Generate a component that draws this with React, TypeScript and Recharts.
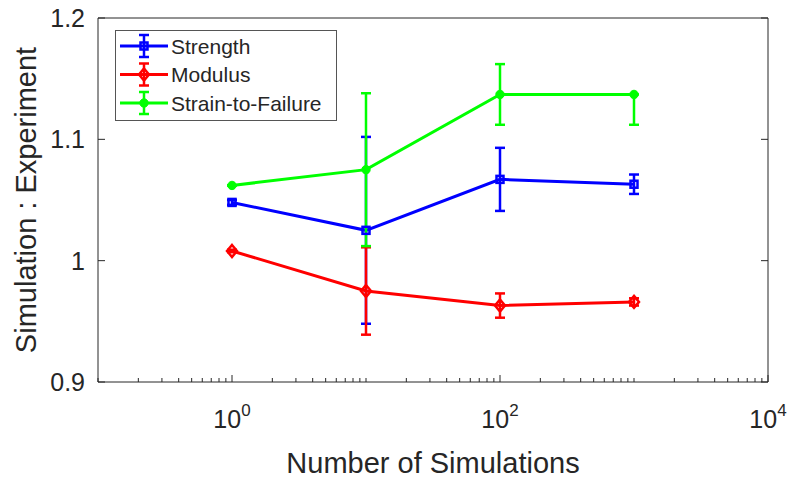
import { LineChart, Line, XAxis, YAxis, ErrorBar, Legend } from 'recharts'

// Number of simulations (x) and simulation:experiment ratios
const nSims = [1, 10, 100, 1000]
const strength = [1.048, 1.025, 1.067, 1.063]
const strengthErr = [0.002, 0.077, 0.026, 0.008]
const modulus = [1.008, 0.975, 0.963, 0.966]
const modulusErr = [0.001, 0.036, 0.01, 0.003]
const strain = [1.062, 1.075, 1.137, 1.137]
const strainErrLow = [0, 0.063, 0.025, 0.025]
const strainErrHigh = [0, 0.063, 0.025, 0]

// axis ticks
const xDecades = [0.1, 1, 10, 100, 1000]
const xMultipliers = [1, 2, 3, 4, 5, 6, 7, 8, 9]
const xMajorTicks = [1, 100, 10000]
const xMajorExps = ['0', '2', '4']
const yTicks = [0.9, 1, 1.1, 1.2]
const yTickLabels = ['0.9', '1', '1.1', '1.2']

const xTicks = [...xDecades.flatMap((d) => xMultipliers.map((m) => d * m)), 10000]

const AXIS = '#262626'
const FONT = '"Liberation Sans", Arial, Helvetica, sans-serif'

const seriesList = [
  { key: 'strength', err: 'strengthErr', name: 'Strength', color: '#0000ff', marker: 'square' },
  { key: 'modulus', err: 'modulusErr', name: 'Modulus', color: '#ff0000', marker: 'diamond' },
  { key: 'strain', err: 'strainErr', name: 'Strain-to-Failure', color: '#00ff00', marker: 'circle' },
]

const data = nSims.map((n, i) => ({
  n,
  strength: strength[i],
  strengthErr: [strengthErr[i], strengthErr[i]],
  modulus: modulus[i],
  modulusErr: [modulusErr[i], modulusErr[i]],
  strain: strain[i],
  strainErr: [strainErrLow[i], strainErrHigh[i]],
}))

function Marker({ type, cx, cy, color }: { type: string; cx: number; cy: number; color: string }) {
  if (type === 'square') {
    return <rect x={cx - 3.5} y={cy - 3.5} width={7} height={7} fill="none" stroke={color} strokeWidth={2.5} />
  }
  if (type === 'diamond') {
    return (
      <polygon
        points={`${cx},${cy - 6} ${cx + 5},${cy} ${cx},${cy + 6} ${cx - 5},${cy}`}
        fill="none"
        stroke={color}
        strokeWidth={2.5}
      />
    )
  }
  return <circle cx={cx} cy={cy} r={4.2} fill={color} stroke={color} />
}

const BottomTick = (props: any) => {
  const { x, y, payload } = props
  const idx = xMajorTicks.indexOf(payload.value)
  const major = idx >= 0
  return (
    <g>
      <line x1={x} x2={x} y1={y} y2={y - (major ? 7 : 4)} stroke={AXIS} />
      {major && (
        <text x={x} y={y + 46} textAnchor="middle" fill={AXIS} fontSize={25} fontFamily={FONT}>
          10<tspan fontSize={17} dy={-12}>{xMajorExps[idx]}</tspan>
        </text>
      )}
    </g>
  )
}

const TopTick = (props: any) => {
  const { x, y, payload } = props
  const major = xMajorTicks.indexOf(payload.value) >= 0
  return <line x1={x} x2={x} y1={y} y2={y + (major ? 7 : 4)} stroke={AXIS} />
}

const LeftTick = (props: any) => {
  const { x, y, payload } = props
  const idx = yTicks.indexOf(payload.value)
  return (
    <g>
      <line x1={x} x2={x + 7} y1={y} y2={y} stroke={AXIS} />
      <text x={x - 13} y={y + 9} textAnchor="end" fill={AXIS} fontSize={25} fontFamily={FONT}>
        {yTickLabels[idx]}
      </text>
    </g>
  )
}

const RightTick = (props: any) => {
  const { x, y } = props
  return <line x1={x} x2={x - 7} y1={y} y2={y} stroke={AXIS} />
}

const renderLegend = () => (
  <svg width={222} height={91} style={{ display: 'block' }}>
    <rect x={0.5} y={0.5} width={221} height={90} fill="#ffffff" stroke="#555555" />
    {seriesList.map((s, i) => {
      const cy = 16 + i * 28.5
      return (
        <g key={s.key}>
          <line x1={5} x2={53} y1={cy} y2={cy} stroke={s.color} strokeWidth={3} />
          <line x1={29} x2={29} y1={cy - 11} y2={cy + 11} stroke={s.color} strokeWidth={2.5} />
          <line x1={24} x2={34} y1={cy - 11} y2={cy - 11} stroke={s.color} strokeWidth={2.5} />
          <line x1={24} x2={34} y1={cy + 11} y2={cy + 11} stroke={s.color} strokeWidth={2.5} />
          <Marker type={s.marker} cx={29} cy={cy} color={s.color} />
          <text x={56} y={cy + 7.5} fill={AXIS} fontSize={21} fontFamily={FONT}>
            {s.name}
          </text>
        </g>
      )
    })}
  </svg>
)

export default function App() {
  return (
    <div style={{ position: 'absolute', left: 0, top: 0, background: '#ffffff' }}>
      <LineChart width={795} height={483} data={data} margin={{ top: 17, right: 26, bottom: 0, left: 0 }}>
        <XAxis
          dataKey="n"
          type="number"
          scale="log"
          domain={[0.1, 10000]}
          allowDataOverflow
          ticks={xTicks}
          interval={0}
          tickSize={0}
          tickMargin={0}
          tickLine={false}
          tick={BottomTick}
          height={101}
          axisLine={{ stroke: AXIS }}
          label={(p: any) => {
            const vb = p.viewBox
            return (
              <text x={vb.x + vb.width / 2} y={vb.y + 91} textAnchor="middle" fill={AXIS} fontSize={29} fontFamily={FONT}>
                Number of Simulations
              </text>
            )
          }}
        />
        <XAxis
          xAxisId="top"
          orientation="top"
          type="number"
          scale="log"
          domain={[0.1, 10000]}
          allowDataOverflow
          ticks={xTicks}
          interval={0}
          tickSize={0}
          tickMargin={0}
          tickLine={false}
          tick={TopTick}
          height={1}
          axisLine={{ stroke: AXIS }}
        />
        <YAxis
          type="number"
          domain={[0.9, 1.2]}
          allowDataOverflow
          ticks={yTicks}
          interval={0}
          tickSize={0}
          tickMargin={0}
          tickLine={false}
          tick={LeftTick}
          width={98}
          axisLine={{ stroke: AXIS }}
          label={(p: any) => {
            const vb = p.viewBox
            const cy = vb.y + vb.height / 2
            return (
              <text
                x={36}
                y={cy}
                transform={`rotate(-90, 36, ${cy})`}
                textAnchor="middle"
                fill={AXIS}
                fontSize={29}
                fontFamily={FONT}
              >
                Simulation : Experiment
              </text>
            )
          }}
        />
        <YAxis
          yAxisId="right"
          orientation="right"
          type="number"
          domain={[0.9, 1.2]}
          allowDataOverflow
          ticks={yTicks}
          interval={0}
          tickSize={0}
          tickMargin={0}
          tickLine={false}
          tick={RightTick}
          width={1}
          axisLine={{ stroke: AXIS }}
        />
        <Legend
          layout="vertical"
          align="center"
          verticalAlign="middle"
          wrapperStyle={{ top: 30, left: 115, width: 222, height: 91 }}
          content={renderLegend}
        />
        {seriesList.map((s) => (
          <Line
            key={s.key}
            dataKey={s.key}
            name={s.name}
            stroke={s.color}
            strokeWidth={3}
            isAnimationActive={false}
            dot={(p: any) => <Marker key={`${s.key}-${p.index}`} type={s.marker} cx={p.cx} cy={p.cy} color={s.color} />}
            activeDot={false}
          >
            <ErrorBar dataKey={s.err} width={5} stroke={s.color} strokeWidth={2.5} direction="y" isAnimationActive={false} />
          </Line>
        ))}
      </LineChart>
    </div>
  )
}
